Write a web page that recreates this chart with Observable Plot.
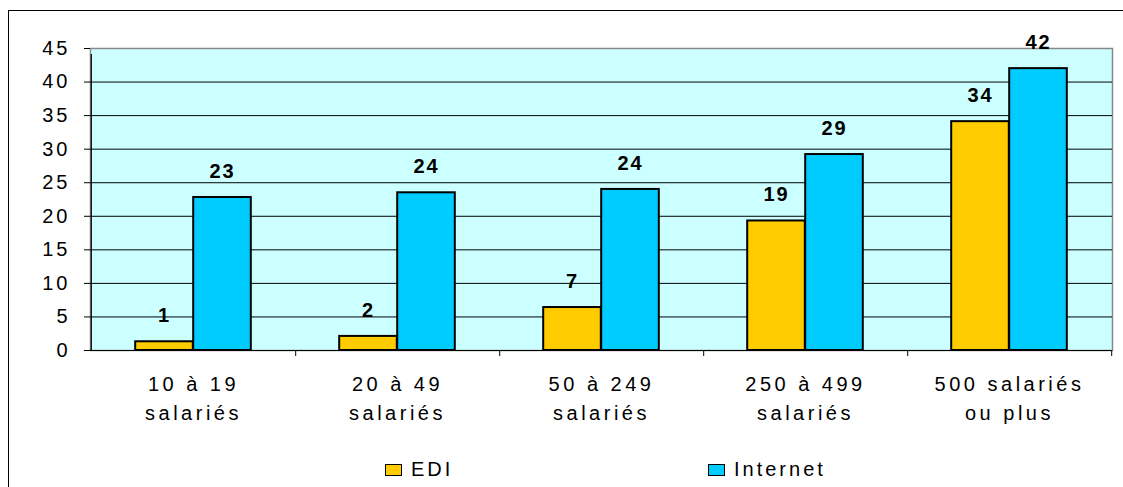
<!DOCTYPE html>
<html>
<head>
<meta charset="utf-8">
<script src="https://cdn.jsdelivr.net/npm/d3@7"></script>
<script src="https://cdn.jsdelivr.net/npm/@observablehq/plot@0.6"></script>
<style>
  html, body { margin: 0; padding: 0; background: #fff; overflow: hidden; }
  body { width: 1123px; height: 487px; position: relative; font-family: "Liberation Sans", Arial, sans-serif; }
  #frame { position: absolute; left: 8px; top: 10px; width: 1130px; height: 500px; border: 1px solid #000; pointer-events: none; }
  #chart { position: absolute; left: 0; top: 0; }
  #chart svg g[aria-label="x-axis tick label"] text { letter-spacing: 3.5px; }
  #chart svg g[aria-label="y-axis tick label"] text { letter-spacing: 3px; }
  #chart svg g[aria-label="text"] text { letter-spacing: 2px; }
  .leg { position: absolute; top: 458px; display: flex; align-items: center; font-size: 20px; letter-spacing: 3px; color: #000; }
  .sw { width: 17px; height: 12px; border: 1.5px solid #000; margin-right: 9px; box-sizing: border-box; }
</style>
</head>
<body>
<div id="chart"></div>
<div id="frame"></div>
<div class="leg" style="left:385px"><div class="sw" id="sw0"></div><span id="lg0"></span></div>
<div class="leg" style="left:708px"><div class="sw" id="sw1"></div><span id="lg1"></span></div>
<script>
const categories = ["10 à 19\nsalariés", "20 à 49\nsalariés", "50 à 249\nsalariés", "250 à 499\nsalariés", "500 salariés\nou plus"];
const seriesNames = ["EDI", "Internet"];
const seriesColors = ["#FFCC00", "#00CCFF"];
const ediValues = [1.3, 2.1, 6.4, 19.3, 34.1];
const internetValues = [22.8, 23.5, 24.0, 29.2, 42.0];
const ediLabels = ["1", "2", "7", "19", "34"];
const internetLabels = ["23", "24", "24", "29", "42"];
const yTicks = [0, 5, 10, 15, 20, 25, 30, 35, 40, 45];

const W = 1123, H = 440;
const mL = 90, mR = 11, mT = 48, mB = 90;
const bw = (W - mL - mR) / categories.length;
const barW = 58;

const edi = categories.map((c, i) => ({cat: c, v: ediValues[i], label: ediLabels[i]}));
const inet = categories.map((c, i) => ({cat: c, v: internetValues[i], label: internetLabels[i]}));

const chart = Plot.plot({
  width: W, height: H,
  marginLeft: mL, marginRight: mR, marginTop: mT, marginBottom: mB,
  style: {fontFamily: "'Liberation Sans', Arial, sans-serif", background: "transparent", overflow: "visible"},
  x: {domain: categories, padding: 0, axis: null},
  y: {domain: [0, 45], axis: null},
  marks: [
    Plot.frame({fill: "#CCFFFF", stroke: "#888888", strokeWidth: 1.5}),
    Plot.gridY(yTicks.filter(t => t > 0 && t < 45), {stroke: "#000", strokeOpacity: 1, strokeWidth: 1}),
    Plot.barY(edi, {x: "cat", y: "v", fill: seriesColors[0], stroke: "#000", strokeWidth: 2, insetLeft: bw / 2 - barW, insetRight: bw / 2}),
    Plot.barY(inet, {x: "cat", y: "v", fill: seriesColors[1], stroke: "#000", strokeWidth: 2, insetLeft: bw / 2, insetRight: bw / 2 - barW}),
    Plot.ruleY([0], {stroke: "#000", strokeWidth: 1.2}),
    Plot.ruleX([0], {x: () => categories[0], dx: -bw / 2, y1: 0, y2: 45, insetBottom: -6, stroke: "#000", strokeWidth: 1.2}),
    Plot.ruleX(categories, {x: d => d, dx: bw / 2, y1: 0, y2: 0, insetBottom: -6, stroke: "#000", strokeWidth: 1}),
    Plot.axisY({ticks: yTicks, label: null, tickSize: 6, tickPadding: 14, fontSize: 20, tickFormat: d => String(d)}),
    Plot.axisX({tickSize: 0, tickPadding: 20, fontSize: 20, lineHeight: 1.45, label: null}),
    Plot.text(edi, {x: "cat", y: "v", text: "label", dx: -barW / 2, dy: -26, fontSize: 20, fontWeight: "bold", fill: "#000"}),
    Plot.text(inet, {x: "cat", y: "v", text: "label", dx: barW / 2, dy: -26, fontSize: 20, fontWeight: "bold", fill: "#000"})
  ]
});
document.getElementById("chart").appendChild(chart);
for (let i = 0; i < 2; i++) {
  document.getElementById("sw" + i).style.background = seriesColors[i];
  document.getElementById("lg" + i).textContent = seriesNames[i];
}
</script>
</body>
</html>
